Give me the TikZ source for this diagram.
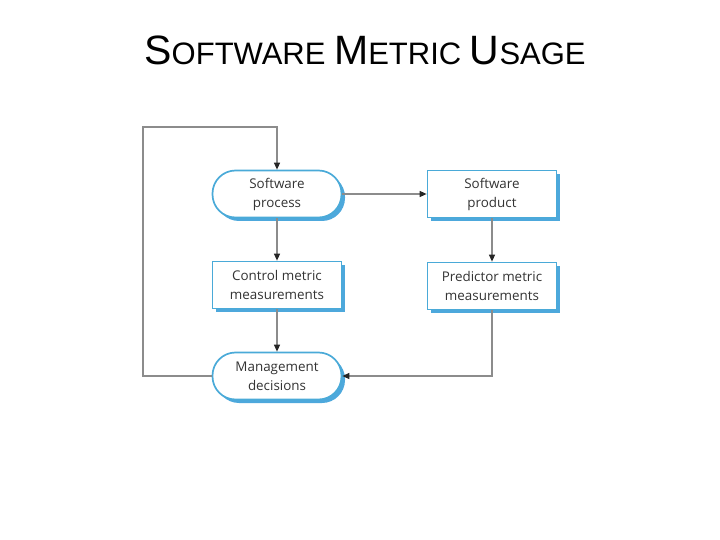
\documentclass[tikz,border=0pt]{standalone}
\usepackage{fontspec}
\setmainfont{Liberation Sans}
\newfontfamily\boxfont{Open Sans}
\usetikzlibrary{arrows.meta,shadows}
\definecolor{ink}{HTML}{333333}
\definecolor{edge}{HTML}{4AAAD8}
\definecolor{shade}{HTML}{3A9FD8}
\definecolor{line}{HTML}{8C8C8C}
\tikzset{
    stepbox/.style={
        rectangle,
        draw=edge,
        fill=white,
        line width=1.7pt,
        minimum width=129pt,
        minimum height=47pt,
        align=center,
        text=ink,
        font=\boxfont\fontsize{13.4}{19}\selectfont,
        drop shadow={shadow xshift=3.5pt, shadow yshift=-3.5pt, fill=shade, opacity=0.9}
    },
    roundbox/.style={
        stepbox,
        rounded corners=23pt
    },
    flow/.style={
        draw=line,
        line width=1.2pt,
        -{Triangle[length=7pt,width=6pt,color=black!85]}
    },
    titletext/.style={
        font=\fontsize{31}{36}\selectfont,
        text=black
    }
}
\begin{document}
\begin{tikzpicture}[x=1pt,y=-1pt]
    \useasboundingbox (0,0) rectangle (720,540);

    % Title
    \node[titletext] (title) at (365,50)
        {{\fontsize{41}{44}\selectfont S}OFTWARE {\fontsize{41}{44}\selectfont M}ETRIC {\fontsize{41}{44}\selectfont U}SAGE};

    % Process side
    \node[roundbox] (proc) at (277,194) {Software\\process};
    \node[stepbox] (ctrl) at (277,285) {Control metric\\measurements};
    \node[roundbox] (mgmt) at (277,376) {Management\\decisions};

    % Product side
    \node[stepbox] (prod) at (492,194) {Software\\product};
    \node[stepbox] (pred) at (492,286) {Predictor metric\\measurements};

    % Connectors
    \coordinate (loop) at (143,127);
    \draw[flow] (proc.east) -- (prod.west);
    \draw[flow] (proc.south) -- (ctrl.north);
    \draw[flow] (ctrl.south) -- (mgmt.north);
    \draw[flow] (prod.south) -- (pred.north);
    \draw[flow] (pred.south) |- (mgmt.east);
    \draw[flow] (mgmt.west) -| (loop) -| (proc.north);

\end{tikzpicture}
\end{document}
